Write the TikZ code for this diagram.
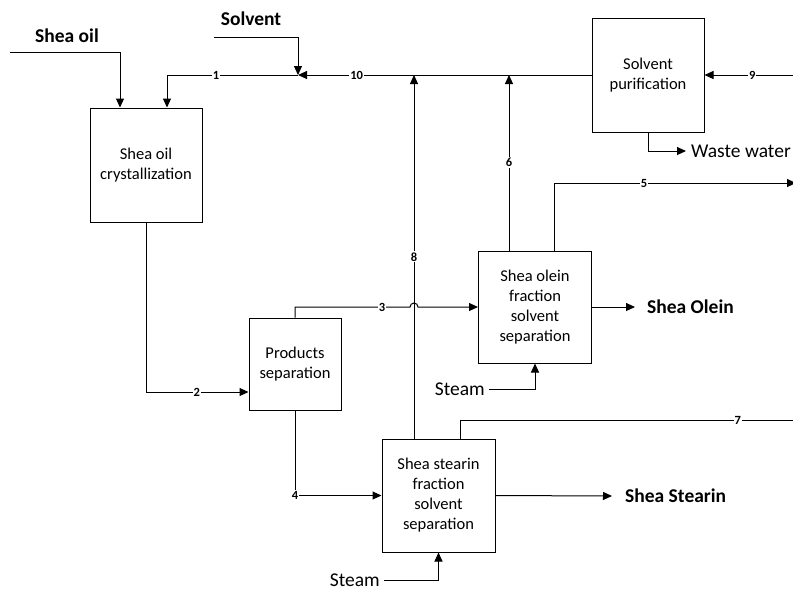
\documentclass[tikz,border=0pt]{standalone}
\usepackage{fontspec}
\setmainfont{Carlito}
\usetikzlibrary{arrows.meta}
\begin{document}
\begin{tikzpicture}[x=1pt,y=-1pt,
  flow/.style={line width=1pt},
  arr/.style={flow,-{Triangle[length=9pt,width=8pt]}},
  unit/.style={draw,line width=1pt,align=center,inner sep=2pt,
    font=\fontsize{16.5}{20}\selectfont},
  num/.style={font=\bfseries\fontsize{12.5}{13}\selectfont,fill=white,inner sep=1pt},
  feed/.style={font=\bfseries\fontsize{19.5}{22}\selectfont,inner sep=0pt},
  plain/.style={font=\fontsize{19.5}{22}\selectfont,inner sep=0pt}]

\useasboundingbox[fill=white] (0,0) rectangle (793,590);

% process units
\node[unit,minimum width=112pt,minimum height=114pt] (cryst) at (146,165) {Shea oil\\crystallization};
\node[unit,minimum width=112pt,minimum height=114pt] (purif) at (648,75) {Solvent\\purification};
\node[unit,minimum width=92pt,minimum height=92pt] (prod) at (295,364) {Products\\separation};
\node[unit,minimum width=113pt,minimum height=112pt] (olein) at (535,307) {Shea olein\\fraction\\solvent\\separation};
\node[unit,minimum width=113pt,minimum height=113pt] (stearin) at (438.5,495.5) {Shea stearin\\fraction\\solvent\\separation};

% feeds and products
\node[feed] (oil) at (67,36) {Shea oil};
\node[feed] (solv) at (251,19) {Solvent};
\node[feed,anchor=west,inner xsep=12pt] (olout) at (635,307) {Shea Olein};
\node[feed,anchor=west,inner xsep=13pt] (stout) at (612,496) {Shea Stearin};
\node[plain,anchor=west,inner xsep=5pt] (waste) at (686,151) {Waste water};
\node[plain,anchor=east,inner xsep=4pt] (steamA) at (489,389) {Steam};
\node[plain,anchor=east,inner xsep=4pt] (steamB) at (384,580) {Steam};

% free ends of streams
\coordinate (oilin) at (10,52);
\coordinate (solvin) at (214,37);
\coordinate (junc) at (298,75);
\coordinate (in9) at (793,75);
\coordinate (out5) at (796,183);
\coordinate (out7) at (793,420);

% streams
\draw[arr] (oilin) -| (120,0 |- cryst.north);
\draw[arr] (solvin) -| (junc);
\draw[arr] (junc) -| node[num,pos=0.313]{1} (167,0 |- cryst.north);
\draw[arr] (purif.west) -- node[num,pos=0.8]{10} (junc);
\draw[arr] (in9) -- node[num,pos=0.46]{9} (purif.east);
\draw[arr] (purif.south) |- (waste.west);
\draw[arr] (cryst.south) |- node[num,pos=0.748]{2} (prod.west |- 0,392);
\draw[arr] (295,0 |- prod.north) -- (295,307) -- node[num,pos=0.757]{3} (410,307)
  arc[start angle=180,end angle=0,radius=4pt] -- (olein.west);
\draw[arr] (295,0 |- prod.south) |- node[num,pos=0.5]{4} (stearin.west);
\draw[arr] (554,0 |- olein.north) |- node[num,pos=0.686]{5} (out5);
\draw[arr] (509,0 |- olein.north) -- node[num,pos=0.5]{6} (509,75);
\draw[flow] (460,0 |- stearin.north) |- node[num,pos=0.917]{7} (out7);
\draw[arr] (414,0 |- stearin.north) -- node[num,pos=0.5]{8} (414,75);
\draw[arr] (olein.east) -- (olout.west);
\draw[arr] (stearin.east) -- (stout.west);
\draw[arr] (steamA.east) -| (olein.south);
\draw[arr] (steamB.east) -| (stearin.south);
\end{tikzpicture}
\end{document}
